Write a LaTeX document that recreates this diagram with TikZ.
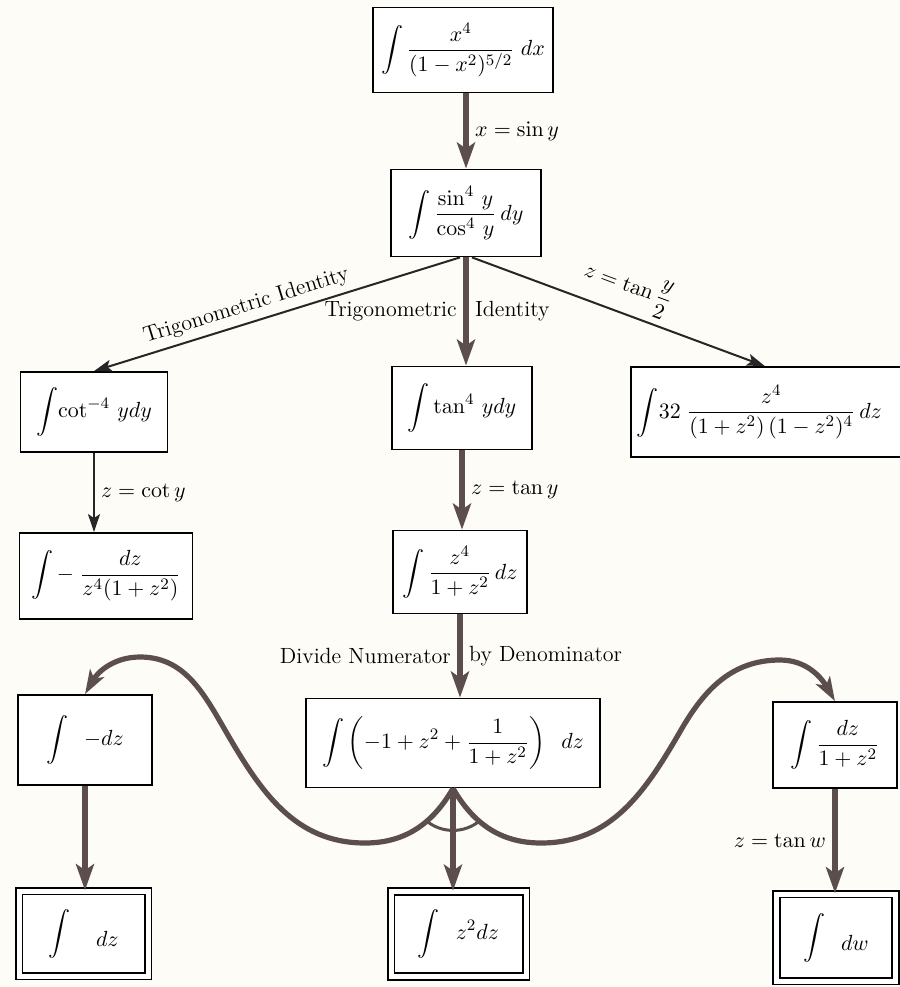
\documentclass[tikz,border=0pt]{standalone}
\usepackage{xcolor}
\usepackage{amsmath}
\usepackage{amssymb}
\usetikzlibrary{arrows.meta}

\definecolor{inkbrown}{RGB}{92,78,76}
\definecolor{paper}{RGB}{253,252,246}

\begin{document}
\begin{tikzpicture}[x=0.5pt,y=0.5pt,
        box/.style={draw,line width=0.9pt,fill=white,inner sep=2pt,font=\fontsize{11}{13}\selectfont},
        endbox/.style={box,line width=0.8pt,double,double distance=2.5pt},
        heavy/.style={draw=inkbrown,line width=3.2pt,-{Stealth[length=13pt,width=9pt,inset=3pt]}},
        curvy/.style={draw=inkbrown,line width=2.6pt},
        slim/.style={draw=black!85,line width=1pt,-{Stealth[length=9pt,width=6pt,inset=2pt]}},
        lbl/.style={font=\fontsize{11}{13}\selectfont,inner sep=3pt}]
        \fill[paper] (0,0) rectangle (900,-987);
        \useasboundingbox (0,0) rectangle (900,-987);

        % boxes
        \node[box,minimum width=90pt,minimum height=42.5pt] (top) at (463,-50) {$\displaystyle\int\frac{x^4}{(1-x^2)^{5/2}}\;dx$};
        \node[box,minimum width=75pt,minimum height=43.5pt] (sine) at (466,-213) {$\displaystyle\int\frac{\sin^4\,y}{\cos^4\,y}\,dy$};
        \node[box,minimum width=73.5pt,minimum height=40pt] (cotq) at (94,-412) {$\displaystyle\int\!\cot^{-4}\,y dy$};
        \node[box,minimum width=70pt,minimum height=41.5pt] (tanq) at (462,-408) {$\displaystyle\int\tan^4\,y dy$};
        \node[box,anchor=west,text width=140pt,minimum height=45pt,inner sep=3pt,align=left] (rat) at (630,-412) {$\displaystyle\int\!32\;\frac{z^4}{(1+z^2)\,(1-z^2)^4}\,dz$};
        \node[box,minimum width=86.5pt,minimum height=43pt] (negfrac) at (106,-576) {$\displaystyle\int-\;\frac{dz}{z^4(1+z^2)}$};
        \node[box,minimum width=67pt,minimum height=41.5pt] (zfour) at (460,-572) {$\displaystyle\int\frac{z^4}{1+z^2}\,dz$};
        \node[box,minimum width=147pt,minimum height=44.5pt] (split) at (453,-743) {$\displaystyle\int\left(-1+z^2+\frac{1}{1+z^2}\right)\;\;dz$};
        \node[box,minimum width=67pt,minimum height=45pt] (minus) at (85,-740) {$\displaystyle\int\;\;-dz$};
        \node[box,minimum width=62pt,minimum height=43pt] (dzfrac) at (835,-745) {$\displaystyle\int\frac{dz}{1+z^2}$};
        \node[endbox,minimum width=64.5pt,minimum height=42.5pt] (zdz) at (83.5,-933.5) {$\displaystyle\int\quad\raisebox{-4pt}{$dz$}$};
        \node[endbox,minimum width=67.5pt,minimum height=42.5pt] (zsq) at (458.5,-934) {$\displaystyle\int\;\;z^2dz$};
        \node[endbox,minimum width=59.5pt,minimum height=43.5pt] (dw) at (836,-937.5) {$\displaystyle\int\;\;\raisebox{-4pt}{$dw$}$};

        % straight connectors
        \draw[heavy] (top.south -| sine.north) -- node[lbl,right] {$x=\sin y$} (sine.north);
        \draw[heavy] (sine.south) -- node[lbl,left] {Trigonometric} node[lbl,right] {Identity} (sine.south |- tanq.north);
        \draw[slim] ([xshift=-3pt]sine.south) -- node[lbl,above,sloped,pos=0.57] {Trigonometric Identity} (cotq.north);
        \draw[slim] ([xshift=3pt]sine.south) -- node[lbl,above,sloped,pos=0.5] {$z=\tan\dfrac{y}{2}$} ([xshift=-6pt]rat.north);
        \draw[slim] (cotq.south) -- node[lbl,right] {$z=\cot y$} (cotq.south |- negfrac.north);
        \draw[heavy] (tanq.south) -- node[lbl,right] {$z=\tan y$} (tanq.south |- zfour.north);
        \draw[heavy] (zfour.south) -- node[lbl,left] {Divide Numerator} node[lbl,right] {by Denominator} (zfour.south |- split.north);
        \draw[heavy] (split.south) -- (split.south |- zsq.north);
        \draw[heavy] (minus.south) -- (minus.south |- zdz.north);
        \draw[heavy] (dzfrac.south) -- node[lbl,left] {$z=\tan w$} (dzfrac.south |- dw.north);

        % the two swung arrows
        \draw[curvy,-{Stealth[length=12pt,width=8pt,inset=3pt]}] (split.south) to[out=240,in=0] (365,-843) to[out=180,in=-60] (225,-730)
            to[out=120,in=0] (140,-657) to[out=180,in=60] (minus.north);
        \draw[curvy,-{Stealth[length=12pt,width=8pt,inset=3pt]}] (split.south) to[out=300,in=180] (541,-843) to[out=0,in=240] (681,-730)
            to[out=60,in=180] (780,-660) to[out=0,in=120] (dzfrac.north);
        \draw[inkbrown,line width=1.5pt] ([shift={(230:21pt)}]split.south) arc[start angle=230,end angle=310,radius=21pt];
    \end{tikzpicture}
\end{document}
